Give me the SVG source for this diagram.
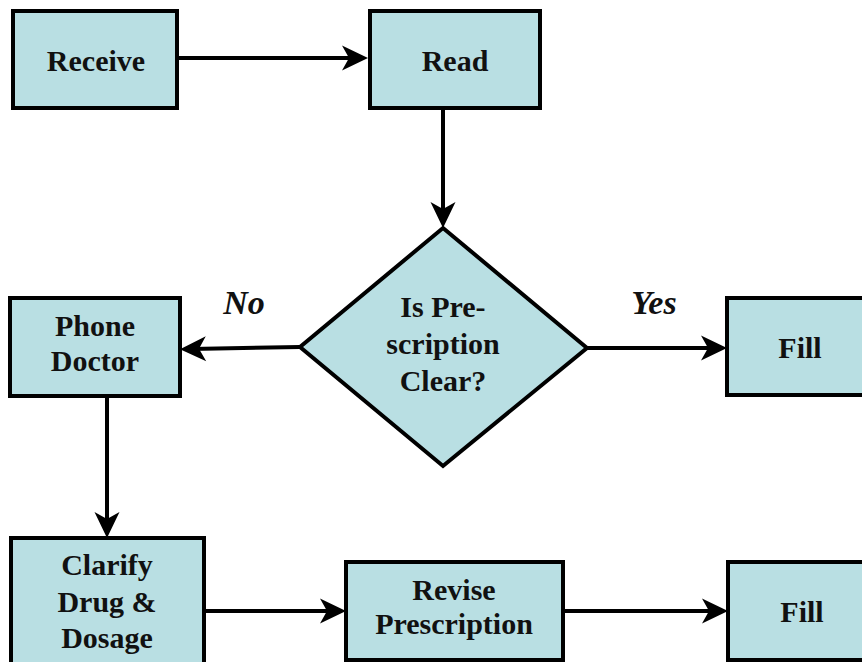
<svg xmlns="http://www.w3.org/2000/svg" width="862" height="662" viewBox="0 0 862 662">
<defs>
<marker id="arr" markerUnits="userSpaceOnUse" viewBox="-17 -14 30 28" markerWidth="30" markerHeight="28" refX="0" refY="0" orient="auto">
<path d="M-15,-12.5 L11,0 L-15,12.5 L-8,0 z" fill="#000"/>
</marker>
<style>
.box{fill:#b9dfe3;stroke:#000;stroke-width:4}
.t{font-family:'Liberation Serif','DejaVu Serif',serif;font-weight:bold;font-size:30px;fill:#111;text-anchor:middle}
.lbl{font-family:'Liberation Serif','DejaVu Serif',serif;font-weight:bold;font-style:italic;font-size:34px;fill:#111;text-anchor:middle}
.c{fill:none;stroke:#000;stroke-width:4;marker-end:url(#arr)}
</style>
</defs>
<rect width="862" height="662" fill="#fff"/>
<g id="connectors">
<path class="c" d="M177,58 L357,58"/>
<path class="c" d="M443,108 L443,217"/>
<path class="c" d="M300,347 L191,349"/>
<path class="c" d="M587,348 L716,348"/>
<path class="c" d="M107,396 L107,527"/>
<path class="c" d="M204,611 L335,611"/>
<path class="c" d="M563,611 L717,611"/>
</g>
<g id="receive"><rect class="box" x="13" y="11" width="164" height="97"/><text class="t" x="96" y="71">Receive</text></g>
<g id="read"><rect class="box" x="370" y="11" width="170" height="97"/><text class="t" x="455" y="71">Read</text></g>
<g id="decision"><polygon class="box" points="443,228 587,348 443,466 300,347"/>
<text class="t" x="443" y="317">Is Pre-</text><text class="t" x="443" y="354">scription</text><text class="t" x="443" y="391">Clear?</text></g>
<g id="label-no"><text class="lbl" x="244" y="314">No</text></g>
<g id="label-yes"><text class="lbl" x="654" y="314">Yes</text></g>
<g id="phone"><rect class="box" x="10" y="298" width="170" height="98"/><text class="t" x="95" y="336">Phone</text><text class="t" x="95" y="371">Doctor</text></g>
<g id="fill1"><rect class="box" x="727" y="298" width="150" height="97"/><text class="t" x="800" y="358">Fill</text></g>
<g id="clarify"><rect class="box" x="11" y="538" width="193" height="140"/><text class="t" x="107" y="575">Clarify</text><text class="t" x="107" y="612">Drug &amp;</text><text class="t" x="107" y="648">Dosage</text></g>
<g id="revise"><rect class="box" x="346" y="562" width="217" height="98"/><text class="t" x="454" y="600">Revise</text><text class="t" x="454" y="634">Prescription</text></g>
<g id="fill2"><rect class="box" x="728" y="562" width="150" height="98"/><text class="t" x="802" y="622">Fill</text></g>
</svg>
